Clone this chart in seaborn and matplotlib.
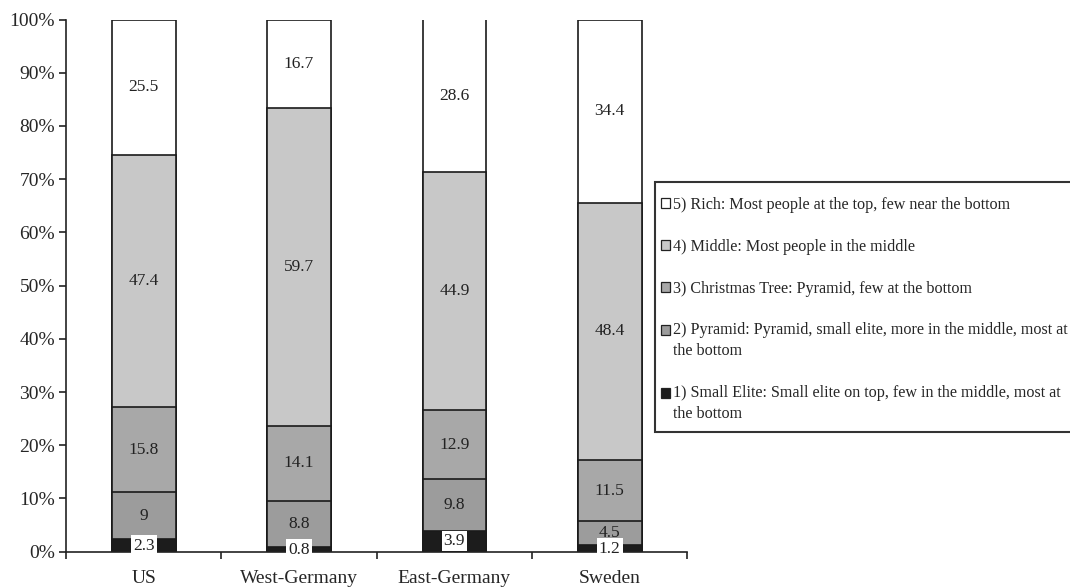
import numpy as np
import pandas as pd
import matplotlib
matplotlib.use("Agg")
import matplotlib.pyplot as plt
from matplotlib.patches import Patch, Rectangle
from matplotlib.legend_handler import HandlerPatch
import seaborn as sns

countries = ["US", "West-Germany", "East-Germany", "Sweden"]
small_elite = [2.3, 0.8, 3.9, 1.2]
pyramid = [9, 8.8, 9.8, 4.5]
christmas_tree = [15.8, 14.1, 12.9, 11.5]
middle = [47.4, 59.7, 44.9, 48.4]
rich = [25.5, 16.7, 28.6, 34.4]

series_names = [
    "1) Small Elite: Small elite on top, few in the middle, most at\nthe bottom",
    "2) Pyramid: Pyramid, small elite, more in the middle, most at\nthe bottom",
    "3) Christmas Tree: Pyramid, few at the bottom",
    "4) Middle: Most people in the middle",
    "5) Rich: Most people at the top, few near the bottom",
]
series_values = [small_elite, pyramid, christmas_tree, middle, rich]
colors = ["#1c1c1c", "#9c9c9c", "#a8a8a8", "#c8c8c8", "#ffffff"]

sns.set_style("ticks")
plt.rcParams["font.family"] = ["Liberation Serif", "DejaVu Serif"]

W, H = 1070, 587
fig = plt.figure(figsize=(W / 100, H / 100), dpi=100)
ax = fig.add_axes([66 / W, 1 - 551.7 / H, (687.5 - 66) / W, (551.7 - 19.5) / H])

vals = np.array(series_values, dtype=float)
totals = vals.sum(axis=0)
pct = vals / totals * 100
cum = np.cumsum(pct, axis=0)

# draw from the top cumulative down so lower segments overlay
for i in range(len(series_values) - 1, -1, -1):
    df = pd.DataFrame({"country": countries, "value": cum[i]})
    sns.barplot(data=df, x="country", y="value", color=colors[i], saturation=1,
                width=0.41, edgecolor="#1a1a1a", linewidth=1.2, ax=ax,
                errorbar=None)

# value labels
for i, series in enumerate(series_values):
    for j, v in enumerate(series):
        mid = cum[i][j] - pct[i][j] / 2
        txt = f"{v:g}"
        kw = dict(ha="center", va="center", fontsize=12.5, color="#222222", zorder=10)
        if i == 0:
            kw["bbox"] = dict(facecolor="white", edgecolor="none", pad=1.5)
        ax.text(j, mid, txt, **kw)

ax.set_xlim(-0.5, len(countries) - 0.5)
ax.set_ylim(0, 100)
ax.set_yticks(np.arange(0, 101, 10))
ax.set_yticklabels([f"{t}%" for t in range(0, 101, 10)])
ax.set_xticks(range(len(countries)))
ax.set_xticklabels(countries)
ax.set_xticks(np.arange(-0.5, len(countries), 1.0), minor=True)
ax.tick_params(axis="x", which="major", length=0, pad=13, labelsize=14)
ax.tick_params(axis="x", which="minor", length=5, width=1.2, color="#222222")
ax.tick_params(axis="y", length=5, width=1.2, color="#222222", labelsize=14, pad=3)
ax.set_xlabel("")
ax.set_ylabel("")
for s in ["top", "right"]:
    ax.spines[s].set_visible(False)
for s in ["left", "bottom"]:
    ax.spines[s].set_linewidth(1.2)
    ax.spines[s].set_color("#222222")

# legend frame
frame = Rectangle((655 / W, 1 - 432 / H), (1080 - 655) / W, (432 - 182) / H,
                  transform=fig.transFigure, facecolor="white",
                  edgecolor="#333333", linewidth=1.5, zorder=3)
fig.patches.append(frame)

LEG_FS = 11.6


def make_handler(shift):
    def patch_func(legend, orig_handle, xdescent, ydescent, width, height, fontsize):
        return Rectangle((-xdescent, -ydescent + shift), width, height)
    return HandlerPatch(patch_func=patch_func)


handles = []
labels = []
handler_map = {}
for i in range(len(series_names) - 1, -1, -1):
    h = Patch(facecolor=colors[i], edgecolor="#222222", linewidth=0.9)
    name = series_names[i]
    shift = 0.68 * LEG_FS if "\n" in name else 0.0
    handler_map[h] = make_handler(shift)
    handles.append(h)
    labels.append(name)

leg = fig.legend(handles=handles, labels=labels, loc="upper left",
                 bbox_to_anchor=(661 / W, 1 - 197 / H), frameon=False,
                 fontsize=LEG_FS, handlelength=0.55, handleheight=0.55,
                 handletextpad=0.2, labelspacing=1.6, borderpad=0,
                 borderaxespad=0, handler_map=handler_map)
for t in leg.get_texts():
    t.set_linespacing(1.4)
leg.set_zorder(5)

fig.savefig("out.png", dpi=100)
